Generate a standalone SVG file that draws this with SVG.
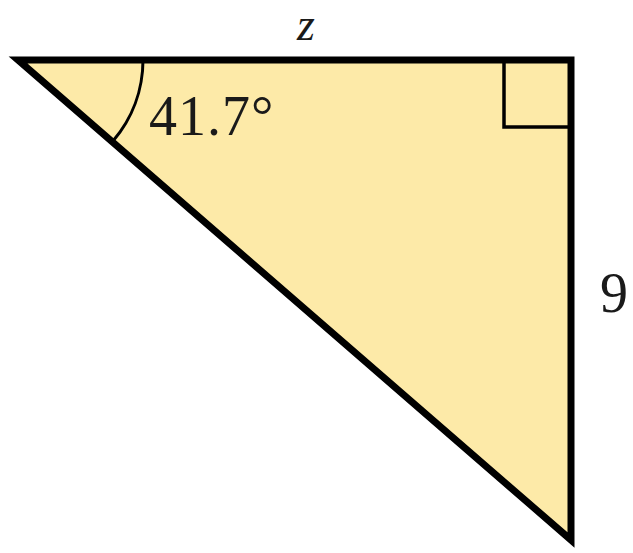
<svg xmlns="http://www.w3.org/2000/svg" width="633" height="553" viewBox="0 0 633 553">
<style>
.lbl{font-family:"Liberation Serif","DejaVu Serif",serif;fill:#1a1a1a}
.edge{fill:none;stroke:#000;stroke-linejoin:miter}
</style>
<rect width="633" height="553" fill="#fff"/>
<g id="triangle">
<polygon points="18,60 571,60 571,540" fill="#FDEAA8" stroke="#000" stroke-width="7" stroke-linejoin="miter" stroke-miterlimit="10"/>
</g>
<g id="right-angle">
<polyline class="edge" points="504,60 504,127 571,127" stroke-width="3.5"/>
</g>
<g id="angle-arc">
<path class="edge" d="M 143,60 A 125 125 0 0 1 113,141" stroke-width="3"/>
</g>
<text class="lbl" x="149" y="135" font-size="56" letter-spacing="1">41.7°</text>
<text class="lbl" x="297" y="40" font-size="46" font-style="italic">z</text>
<text class="lbl" x="600" y="312" font-size="56">9</text>
</svg>
